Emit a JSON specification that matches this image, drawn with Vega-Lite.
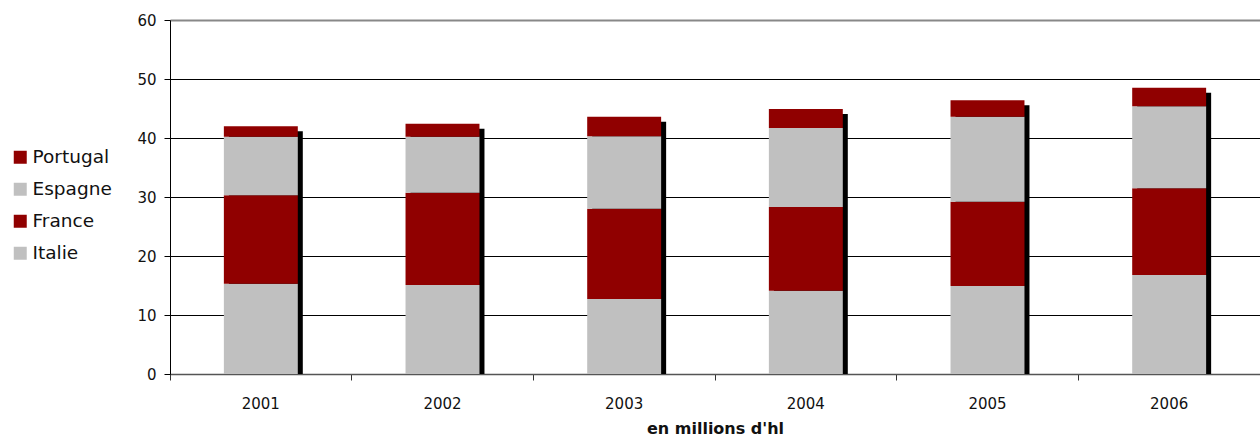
{
  "$schema": "https://vega.github.io/schema/vega-lite/v6.json",
  "width": 1090,
  "height": 354,
  "autosize": {"type": "none"},
  "padding": {"left": 170, "top": 20, "right": 0, "bottom": 65},
  "background": "white",
  "config": {
    "view": {"stroke": null},
    "font": "DejaVu Sans",
    "axis": {"labelFont": "DejaVu Sans", "titleFont": "DejaVu Sans", "labelColor": "#111", "titleColor": "#111"}
  },
  "data": {
    "values": [
      {"annee": "2001", "pays": "Italie", "valeur": 15.3, "ordre": 1},
      {"annee": "2001", "pays": "France", "valeur": 15.0, "ordre": 2},
      {"annee": "2001", "pays": "Espagne", "valeur": 9.9, "ordre": 3},
      {"annee": "2001", "pays": "Portugal", "valeur": 1.8, "ordre": 4},
      {"annee": "2002", "pays": "Italie", "valeur": 15.1, "ordre": 1},
      {"annee": "2002", "pays": "France", "valeur": 15.6, "ordre": 2},
      {"annee": "2002", "pays": "Espagne", "valeur": 9.5, "ordre": 3},
      {"annee": "2002", "pays": "Portugal", "valeur": 2.2, "ordre": 4},
      {"annee": "2003", "pays": "Italie", "valeur": 12.7, "ordre": 1},
      {"annee": "2003", "pays": "France", "valeur": 15.3, "ordre": 2},
      {"annee": "2003", "pays": "Espagne", "valeur": 12.3, "ordre": 3},
      {"annee": "2003", "pays": "Portugal", "valeur": 3.3, "ordre": 4},
      {"annee": "2004", "pays": "Italie", "valeur": 14.1, "ordre": 1},
      {"annee": "2004", "pays": "France", "valeur": 14.2, "ordre": 2},
      {"annee": "2004", "pays": "Espagne", "valeur": 13.4, "ordre": 3},
      {"annee": "2004", "pays": "Portugal", "valeur": 3.2, "ordre": 4},
      {"annee": "2005", "pays": "Italie", "valeur": 14.9, "ordre": 1},
      {"annee": "2005", "pays": "France", "valeur": 14.3, "ordre": 2},
      {"annee": "2005", "pays": "Espagne", "valeur": 14.4, "ordre": 3},
      {"annee": "2005", "pays": "Portugal", "valeur": 2.8, "ordre": 4},
      {"annee": "2006", "pays": "Italie", "valeur": 16.8, "ordre": 1},
      {"annee": "2006", "pays": "France", "valeur": 14.7, "ordre": 2},
      {"annee": "2006", "pays": "Espagne", "valeur": 13.9, "ordre": 3},
      {"annee": "2006", "pays": "Portugal", "valeur": 3.1, "ordre": 4}
    ]
  },
  "encoding": {
    "x": {
      "field": "annee",
      "type": "nominal",
      "scale": {"paddingInner": 0, "paddingOuter": 0},
      "axis": {
        "title": "en millions d'hl",
        "titleFontSize": 16,
        "titleFontWeight": "bold",
        "titlePadding": 9,
        "labelAngle": 0,
        "labelFontSize": 15,
        "labelPadding": 16,
        "bandPosition": 0,
        "tickSize": 6,
        "tickColor": "#333",
        "domainColor": "#555",
        "domainWidth": 1.5,
        "grid": false
      }
    }
  },
  "layer": [
    {
      "mark": {"type": "bar", "color": "black", "width": {"band": 0.407}, "xOffset": 5, "yOffset": 5},
      "encoding": {
        "y": {"aggregate": "sum", "field": "valeur", "type": "quantitative"}
      }
    },
    {
      "mark": {"type": "bar", "width": {"band": 0.407}},
      "encoding": {
        "y": {
          "aggregate": "sum",
          "field": "valeur",
          "type": "quantitative",
          "stack": "zero",
          "scale": {"domain": [0, 60]},
          "axis": {
            "title": null,
            "values": [0, 10, 20, 30, 40, 50, 60],
            "labelFontSize": 15,
            "labelPadding": 8,
            "tickSize": 6,
            "tickColor": "black",
            "domainColor": "black",
            "grid": true,
            "gridColor": {"condition": {"test": "datum.value == 60", "value": "#888"}, "value": "black"},
            "gridWidth": {"condition": {"test": "datum.value == 60", "value": 2}, "value": 1}
          }
        },
        "color": {
          "field": "pays",
          "type": "nominal",
          "scale": {
            "domain": ["Portugal", "Espagne", "France", "Italie"],
            "range": ["#900000", "#C0C0C0", "#900000", "#C0C0C0"]
          },
          "legend": {
            "title": null,
            "orient": "none",
            "legendX": -159,
            "legendY": 128,
            "padding": 0,
            "symbolType": "square",
            "symbolSize": 169,
            "symbolStrokeWidth": 0,
            "labelFontSize": 18.5,
            "labelFont": "DejaVu Sans",
            "labelColor": "#111",
            "labelOffset": 3,
            "rowPadding": 13
          }
        },
        "order": {"field": "ordre", "type": "quantitative", "sort": "ascending"}
      }
    }
  ]
}
